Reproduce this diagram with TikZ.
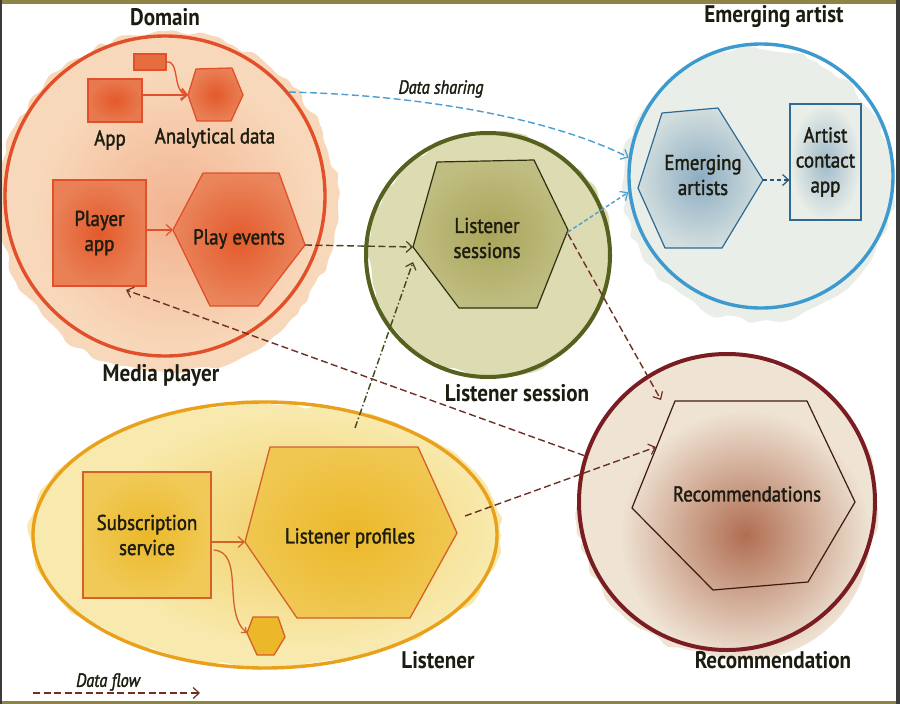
\documentclass[tikz,border=0pt]{standalone}
\usepackage{fontspec}
\setmainfont{PT Sans}[FakeStretch=0.9]
\newfontfamily\labelfont{PT Sans}[FakeStretch=0.88, FakeBold=1.6]
\newfontfamily\titlefont{PT Sans Bold}[FakeStretch=0.88]
\newfontfamily\notefont{PT Sans Italic}[FakeStretch=0.86, FakeBold=1.6]
\usetikzlibrary{arrows.meta,decorations.pathmorphing,shapes.geometric,calc}

\definecolor{frameOlive}{HTML}{8F8446}
\definecolor{frameGray}{HTML}{3B3B3B}
\definecolor{inkText}{HTML}{1C1C10}
\definecolor{mpLine}{HTML}{E1502A}
\definecolor{mpWash}{HTML}{F8D8BA}
\definecolor{mpFill}{HTML}{E35A2B}
\definecolor{lsLine}{HTML}{56601F}
\definecolor{lsWash}{HTML}{DCDBB2}
\definecolor{lsFill}{HTML}{A9A55A}
\definecolor{lsInk}{HTML}{2E3010}
\definecolor{eaLine}{HTML}{3D9ACE}
\definecolor{eaWash}{HTML}{E9EEE8}
\definecolor{eaFill}{HTML}{8DADC2}
\definecolor{eaInk}{HTML}{2F6A94}
\definecolor{rcLine}{HTML}{7A1D23}
\definecolor{rcWash}{HTML}{EFE3D4}
\definecolor{rcFill}{HTML}{B06E52}
\definecolor{rcInk}{HTML}{3E1A10}
\definecolor{liLine}{HTML}{E9A11B}
\definecolor{liWash}{HTML}{F8EAAE}
\definecolor{liFill}{HTML}{ECB829}
\definecolor{liInk}{HTML}{D4602A}
\definecolor{flowBrown}{HTML}{6E3024}
\definecolor{flowOlive}{HTML}{45451E}
\definecolor{shareBlue}{HTML}{4A9ED0}

\tikzset{
  title/.style={font=\titlefont\fontsize{24}{26}\selectfont, text=inkText},
  lbl/.style={font=\labelfont\fontsize{21.5}{25}\selectfont, text=inkText, align=center, inner sep=0pt},
  note/.style={font=\notefont\fontsize{19}{21}\selectfont, text=inkText},
  bound/.style={draw, circle, line width=3.4pt, inner sep=0pt},
  wash/.style={decorate, decoration={random steps, segment length=9pt, amplitude=4pt}, rounded corners=4pt},
  shapeline/.style={line width=1.3pt, line join=round},
  boxnode/.style={draw, line width=1.3pt, inner sep=0pt},
  tip/.style={-{Straight Barb[length=6pt,width=11pt,line width=1.2pt]}},
  inner/.style={tip, line width=1.3pt},
  flow/.style={tip, line width=1.4pt, dash pattern=on 7pt off 3.5pt},
  dflow/.style={tip, line width=1.4pt, dash pattern=on 7pt off 2.5pt on 1.5pt off 2.5pt},
}

\begin{document}
\begin{tikzpicture}[x=1pt,y=-1pt]
\useasboundingbox (0,0) rectangle (900,704);
\fill[white] (0,0) rectangle (900,704);
\pgfmathsetseed{42}

% ---------- watercolour washes ----------
\fill[mpWash, wash] (168,202) circle (170pt);
\shade[inner color=mpFill!30!mpWash, outer color=mpWash] (175,215) circle (140pt);
\fill[lsWash, wash] (490,255) circle (122pt);
\fill[eaWash, wash] (758,185) circle (136pt);
\fill[rcWash, wash] (727,505) circle (150pt);
\shade[inner color=rcFill, outer color=rcWash] (745,535) circle (125pt);
\fill[liWash, wash] (265,535) ellipse (236pt and 132pt);
\shade[inner color=liFill!55!liWash, outer color=liWash] (300,530) ellipse (200pt and 120pt);

% ---------- bounded contexts ----------
\node[bound, draw=mpLine, minimum size=320pt] (mpc) at (165,196) {};
\node[bound, draw=lsLine, line width=4pt, minimum size=244pt] (lsc) at (488,255) {};
\node[bound, draw=eaLine, minimum size=264pt] (eac) at (761,176) {};
\node[bound, draw=rcLine, line width=4pt, minimum size=296pt] (rcc) at (727,502) {};
\node[draw=liLine, ellipse, line width=3.4pt, inner sep=0pt,
      minimum width=464pt, minimum height=266pt] (lic) at (265,535) {};

% ---------- titles ----------
\node[title] (tDomain) at (165,17) {Domain};
\node[title] (tMedia) at (161,375) {Media player};
\node[title] (tArtist) at (774,17) {Emerging artist};
\node[title] (tSession) at (517,393) {Listener session};
\node[title] (tListener) at (438,660) {Listener};
\node[title] (tRec) at (773,660) {Recommendation};

% ---------- media player ----------
\node[boxnode, draw=mpLine, inner color=mpFill, outer color=mpFill!75!mpWash,
      minimum width=54pt, minimum height=43pt] (app) at (115,100.5) {};
\node[boxnode, draw=mpLine, fill=mpFill!85!mpWash,
      minimum width=32pt, minimum height=16pt] (sb) at (150,62) {};
\coordinate (ad-L) at (188,95);  \coordinate (ad-TL) at (196,69);
\coordinate (ad-TR) at (232,68); \coordinate (ad-R) at (243,95);
\coordinate (ad-BR) at (231,121);\coordinate (ad-BL) at (197,121);
\shade[inner color=mpFill, outer color=mpFill!70!mpWash]
  (ad-L) -- (ad-TL) -- (ad-TR) -- (ad-R) -- (ad-BR) -- (ad-BL) -- cycle;
\draw[shapeline, mpLine]
  (ad-L) -- (ad-TL) -- (ad-TR) -- (ad-R) -- (ad-BR) -- (ad-BL) -- cycle;
\node[lbl] (appT) at (110,140) {App};
\node[lbl] (adT) at (215,138) {Analytical data};

\node[boxnode, draw=mpLine, inner color=mpFill, outer color=mpFill!70!mpWash,
      minimum width=93pt, minimum height=106pt, lbl] (pa) at (99.5,233) {Player\\app};
\coordinate (pe-L) at (173,230);  \coordinate (pe-TL) at (203,173);
\coordinate (pe-TR) at (279,173); \coordinate (pe-R) at (305,245);
\coordinate (pe-BR) at (258,306); \coordinate (pe-BL) at (210,306);
\shade[inner color=mpFill, outer color=mpFill!65!mpWash]
  (pe-L) -- (pe-TL) -- (pe-TR) -- (pe-R) -- (pe-BR) -- (pe-BL) -- cycle;
\draw[shapeline, mpLine]
  (pe-L) -- (pe-TL) -- (pe-TR) -- (pe-R) -- (pe-BR) -- (pe-BL) -- cycle;
\node[lbl] (pe) at (239,239) {Play events};

\draw[inner, mpLine] (app.east |- ad-L) -- (ad-L);
\draw[inner, mpLine] (sb.east) .. controls (180,60) and (172,92) .. (ad-L);
\draw[inner, mpLine] (pa.east |- pe-L) -- (pe-L);

% ---------- listener session ----------
\coordinate (ls-L) at (413,247);  \coordinate (ls-TL) at (437,162);
\coordinate (ls-TR) at (534,160); \coordinate (ls-R) at (568,230);
\coordinate (ls-BR) at (537,308); \coordinate (ls-BL) at (459,308);
\shade[inner color=lsFill, outer color=lsFill!55!lsWash]
  (ls-L) -- (ls-TL) -- (ls-TR) -- (ls-R) -- (ls-BR) -- (ls-BL) -- cycle;
\draw[shapeline, line width=1.2pt, lsInk]
  (ls-L) -- (ls-TL) -- (ls-TR) -- (ls-R) -- (ls-BR) -- (ls-BL) -- cycle;
\node[lbl] (ls) at (487,238) {Listener\\sessions};

% ---------- emerging artist ----------
\coordinate (ea-L) at (638,188);  \coordinate (ea-TL) at (662,113);
\coordinate (ea-TR) at (718,108); \coordinate (ea-R) at (763,180);
\coordinate (ea-BR) at (722,248); \coordinate (ea-BL) at (665,248);
\shade[inner color=eaFill, outer color=eaFill!25!eaWash]
  (ea-L) -- (ea-TL) -- (ea-TR) -- (ea-R) -- (ea-BR) -- (ea-BL) -- cycle;
\draw[shapeline, line width=1.2pt, eaInk]
  (ea-L) -- (ea-TL) -- (ea-TR) -- (ea-R) -- (ea-BR) -- (ea-BL) -- cycle;
\node[lbl] (ea) at (703,175) {Emerging\\artists};
\node[boxnode, draw=eaInk, line width=1.2pt, inner color=eaFill!80!eaWash, outer color=eaWash,
      minimum width=71pt, minimum height=116pt, lbl] (aca) at (825.5,162) {Artist\\contact\\app};
\draw[tip, eaInk!80!black, line width=1.2pt, dash pattern=on 4pt off 3pt] (ea-R) -- (aca.west |- ea-R);

% ---------- recommendation ----------
\coordinate (rc-L) at (632,508);  \coordinate (rc-TL) at (675,401);
\coordinate (rc-TR) at (807,401); \coordinate (rc-R) at (855,502);
\coordinate (rc-BR) at (808,582); \coordinate (rc-BL) at (713,590);
\draw[shapeline, line width=1.2pt, rcInk]
  (rc-L) -- (rc-TL) -- (rc-TR) -- (rc-R) -- (rc-BR) -- (rc-BL) -- cycle;
\node[lbl] (rc) at (747,494) {Recommendations};

% ---------- listener ----------
\node[boxnode, draw=liInk, inner color=liFill, outer color=liFill!65!liWash,
      minimum width=128pt, minimum height=126pt, lbl] (ss) at (147,535) {Subscription\\service};
\coordinate (lp-L) at (245,542);  \coordinate (lp-TL) at (270,447);
\coordinate (lp-TR) at (418,447); \coordinate (lp-R) at (457,533);
\coordinate (lp-BR) at (410,618); \coordinate (lp-BL) at (297,618);
\shade[inner color=liFill, outer color=liFill!70!liWash]
  (lp-L) -- (lp-TL) -- (lp-TR) -- (lp-R) -- (lp-BR) -- (lp-BL) -- cycle;
\draw[shapeline, liInk]
  (lp-L) -- (lp-TL) -- (lp-TR) -- (lp-R) -- (lp-BR) -- (lp-BL) -- cycle;
\node[lbl] (lp) at (350,538) {Listener profiles};
\coordinate (sh-L) at (247,633);  \coordinate (sh-TL) at (253,617);
\coordinate (sh-TR) at (278,617); \coordinate (sh-R) at (285,637);
\coordinate (sh-BR) at (274,655); \coordinate (sh-BL) at (257,655);
\filldraw[shapeline, draw=liInk, fill=liFill]
  (sh-L) -- (sh-TL) -- (sh-TR) -- (sh-R) -- (sh-BR) -- (sh-BL) -- cycle;
\draw[inner, liInk] (ss.east |- lp-L) -- (lp-L);
\draw[inner, liInk, -{Straight Barb[length=4pt,width=7pt,line width=1.2pt]}]
  ($(ss.east)+(2,15)$) .. controls (245,552) and (222,612) .. (sh-L);

% ---------- data flows ----------
\coordinate (lp-out) at (465,516);
\coordinate (lp-up) at (355,428);
\coordinate (ls-in) at (413,262);
\coordinate (pa-in) at (126,290);
\coordinate (rc-in) at (656,447);
\coordinate (rc-top) at (661,400);
\draw[flow, flowOlive] (pe-R) -- (ls-L);
\draw[dflow, flowOlive] (lp-up) -- (ls-in);
\draw[flow, flowBrown] (rcc.162) -- (pa-in);
\draw[flow, flowBrown] (lp-out) -- (rc-in);
\draw[flow, flowBrown] ($(ls-R)+(0,4)$) -- (rc-top);
\draw[tip, shareBlue, line width=1.4pt, dash pattern=on 7pt off 3.5pt]
  (mpc.40) .. controls (420,95) and (550,118) .. (eac.172);
\draw[tip, shareBlue, line width=1.4pt, dash pattern=on 4pt off 2.5pt]
  ($(ls-R)+(0,2)$) -- (eac.187);
\node[note] (share) at (441,89) {Data sharing};

% ---------- legend ----------
\coordinate (legA) at (33,693);
\coordinate (legB) at (200,693);
\draw[flow, flowBrown] (legA) -- (legB);
\node[note] (legT) at (108,682) {Data flow};

% ---------- frame ----------
\fill[frameOlive] (0,0) rectangle (900,3.5);
\fill[frameOlive] (0,700.5) rectangle (900,704);
\fill[frameGray] (0,0) rectangle (2,704);
\fill[frameGray] (895.5,0) rectangle (900,704);
\end{tikzpicture}
\end{document}
